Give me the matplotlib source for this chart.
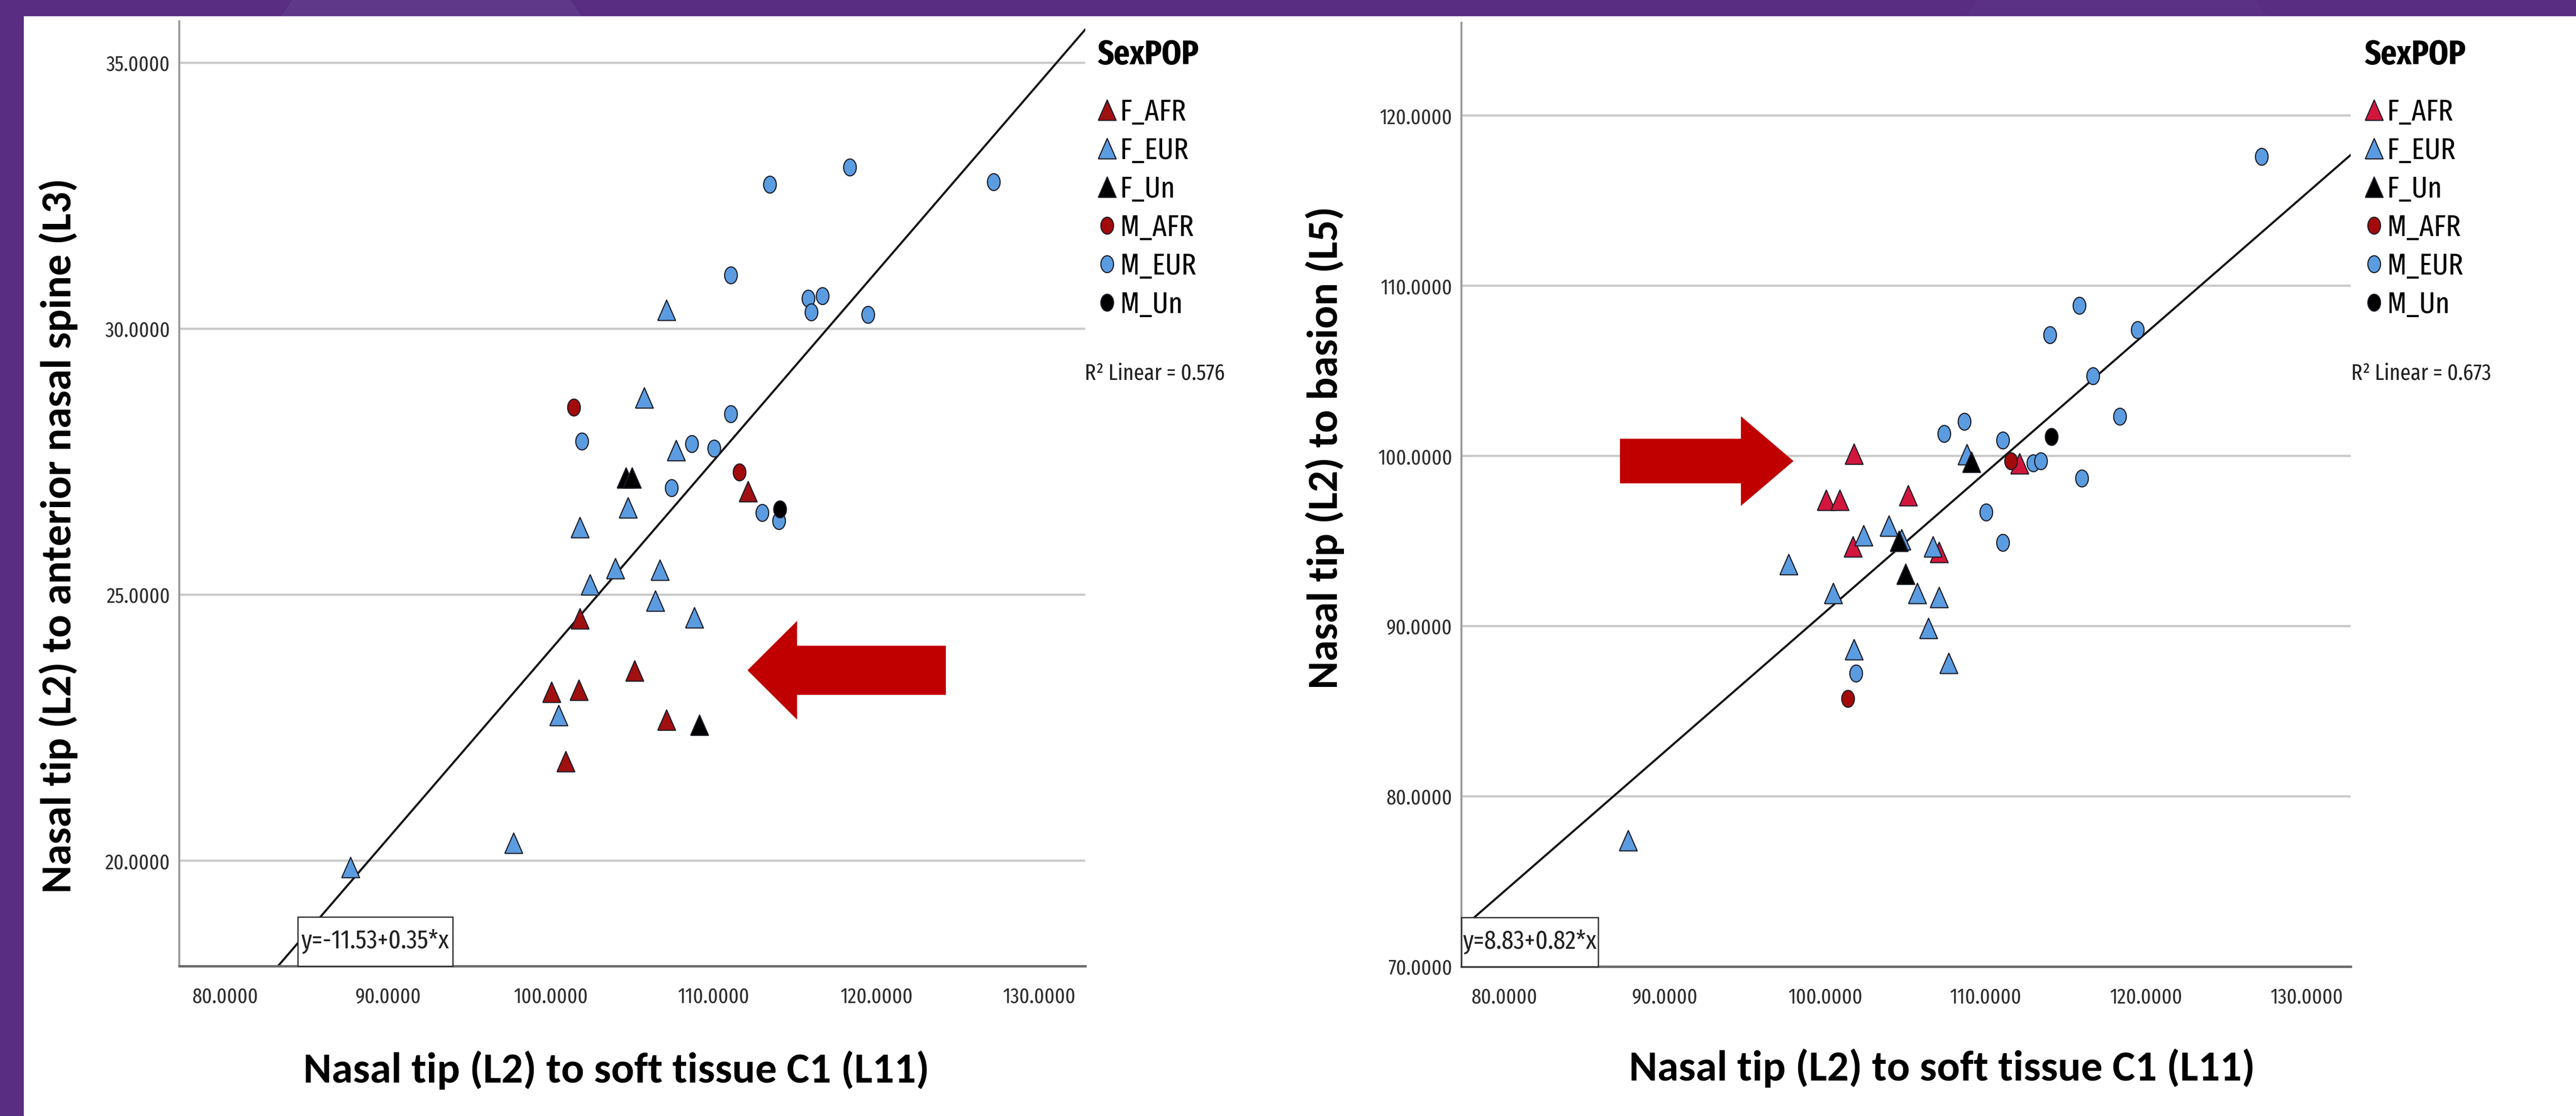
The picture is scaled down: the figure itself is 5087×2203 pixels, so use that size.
import os
import numpy as np
import matplotlib
matplotlib.use('Agg')
import matplotlib.pyplot as plt
from matplotlib import font_manager
from matplotlib.font_manager import FontProperties
from matplotlib.patches import Rectangle, Ellipse, FancyArrow
from matplotlib.lines import Line2D

# x = Nasal tip (L2) to soft tissue C1 (L11)
# l3 = Nasal tip (L2) to anterior nasal spine (L3), l5 = Nasal tip (L2) to basion (L5)
f_afr_x = [112.10, 101.78, 101.72, 105.15, 100.05, 107.10, 100.90]
f_afr_l3 = [26.94, 24.55, 23.21, 23.57, 23.17, 22.65, 21.87]
f_afr_l5 = [99.55, 100.12, 94.67, 97.69, 97.42, 94.35, 97.42]

f_eur_x = [87.70, 97.70, 100.48, 101.79, 102.39, 103.95, 104.75, 105.74, 106.42, 106.70, 107.10, 107.68, 108.81]
f_eur_l3 = [19.88, 20.33, 22.73, 26.27, 25.19, 25.50, 26.64, 28.70, 24.89, 25.47, 30.35, 27.71, 24.57]
f_eur_l5 = [77.41, 93.63, 91.93, 88.63, 95.33, 95.89, 95.10, 91.93, 89.88, 94.67, 91.70, 87.83, 100.10]

f_un_x = [104.60, 105.00, 109.12]
f_un_l3 = [27.20, 27.20, 22.55]
f_un_l5 = [95.00, 93.07, 99.65]

m_afr_x = [101.40, 111.57]
m_afr_l3 = [28.52, 27.30]
m_afr_l5 = [85.75, 99.70]

m_eur_x = [101.90, 107.40, 108.66, 110.03, 111.05, 111.06, 112.97, 113.44,
           114.01, 115.82, 116.00, 116.69, 118.37, 119.47, 127.20]
m_eur_l3 = [27.89, 27.01, 27.84, 27.75, 31.01, 28.40, 26.54, 32.71,
            26.39, 30.57, 30.31, 30.62, 33.04, 30.27, 32.76]
m_eur_l5 = [87.23, 101.30, 102.02, 96.71, 100.91, 94.91, 99.59, 99.70,
            107.11, 108.84, 98.70, 104.71, 102.31, 107.41, 117.60]

m_un_x = [114.08]
m_un_l3 = [26.61]
m_un_l5 = [101.12]

group_names = ['F_AFR', 'F_EUR', 'F_Un', 'M_AFR', 'M_EUR', 'M_Un']
x_ticks = [80, 90, 100, 110, 120, 130]
l3_ticks = [20, 25, 30, 35]
l5_ticks = [70, 80, 90, 100, 110, 120]

W, H = 5087, 2203
fig = plt.figure(figsize=(W / 100, H / 100), dpi=100)
fig.patch.set_facecolor('#582d82')
renderer = fig.canvas.get_renderer()

# fonts: the SPSS chart text is squeezed sideways, so use a narrow sans
files = {os.path.basename(f.fname): f.fname for f in font_manager.fontManager.ttflist}


def pick(candidates, family, weight):
    for c in candidates:
        if c in files:
            return FontProperties(fname=files[c])
    return FontProperties(family=family, weight=weight)


REG = pick(['FiraSansExtraCondensed-Regular.ttf', 'BarlowCondensed-Regular.ttf',
            'AsapCondensed-Regular.ttf', 'RobotoCondensed-Regular.ttf'],
           'Liberation Sans', 'normal')
BOLD = pick(['FiraSansExtraCondensed-Bold.ttf', 'BarlowCondensed-SemiBold.ttf',
             'AsapCondensed-Bold.ttf', 'RobotoCondensed-Bold.ttf'],
            'Liberation Sans', 'bold')
LAB = pick(['Carlito-Bold.ttf'], ['Lato', 'DejaVu Sans'], 'bold')


def metrics(s, fp):
    return renderer.get_text_width_height_descent(s, fp, ismath=False)


def fit(s, fp, target):
    # font size (pt) that makes the string `target` pixels wide
    p = fp.copy()
    p.set_size(100)
    return 100 * target / metrics(s, p)[0]


def sized(fp, size):
    p = fp.copy()
    p.set_size(size)
    return p


TICK = sized(REG, fit('100.0000', REG, 147))
LEG = sized(REG, fit('F_AFR', REG, 131))
TITLE = sized(BOLD, fit('SexPOP', BOLD, 200))
R2 = sized(REG, fit('R² Linear = 0.576', REG, 277))
EQ = sized(REG, fit('y=-11.53+0.35*x', REG, 292))
XL = sized(LAB, fit('Nasal tip (L2) to soft tissue C1 (L11)', LAB, 1237))
_, leg_h, _ = metrics('lp', LEG)
leg_pt = LEG.get_size_in_points()
_, lp_h, lp_d = metrics('lp', TICK)
_, dig_h, _ = metrics('0', TICK)
xpad = (58 - ((lp_h - lp_d) - dig_h / 2)) * 0.72


def fx(px):
    return px / W


def fy(py):
    return 1 - py / H


# slide background: purple frame + white panel, faint circles in the top band
fig.patches.append(Ellipse((fx(852), fy(200)), 680 / W, 680 / H, transform=fig.transFigure,
                           fc='#5f3889', ec='none', zorder=-3))
fig.patches.append(Ellipse((fx(4180), fy(200)), 680 / W, 680 / H, transform=fig.transFigure,
                           fc='#5b3185', ec='none', zorder=-3))
fig.patches.append(Rectangle((fx(47), 0), 1 - fx(47), fy(32), transform=fig.transFigure,
                             fc='white', ec='none', zorder=-2))

edge = '#1c1c28'
blue = '#5b9ce0'
tri = [(-0.875, -1), (0.875, -1), (0, 1), (-0.875, -1)]
t = np.linspace(0, 2 * np.pi, 60)
ell = list(zip(0.75 * np.cos(t), np.sin(t)))


def styles(afr_tri):
    return {
        'F_AFR': (tri, 29, afr_tri),
        'F_EUR': (tri, 29, blue),
        'F_Un': (tri, 29, 'black'),
        'M_AFR': (ell, 24, '#a30a0a'),
        'M_EUR': (ell, 24, blue),
        'M_Un': (ell, 24, 'black'),
    }


def panel(box, ys, ylim, yticks, b0, b1, eq_text, eq_w, r2_text, afr_tri,
          ylabel, ylab_len, xl_pos, yl_pos, legend_x, r2_x):
    ax = fig.add_axes([fx(box[0]), fy(box[3]), fx(box[2] - box[0]), (box[3] - box[1]) / H])
    ax.set_xlim(box[4], box[5])
    ax.set_ylim(ylim)
    xs = [f_afr_x, f_eur_x, f_un_x, m_afr_x, m_eur_x, m_un_x]
    st = styles(afr_tri)
    handles = []
    for name, x, y in zip(group_names, xs, ys):
        mk, ms, fc = st[name]
        ax.plot(x, y, ls='none', marker=mk, ms=ms, mfc=fc, mec=edge, mew=1.6, zorder=3)
        handles.append(Line2D([], [], ls='none', marker=mk, ms=ms, mfc=fc, mec=edge, mew=1.6))

    xx = np.array(ax.get_xlim())
    ax.plot(xx, b0 + b1 * xx, color='#151515', lw=3.0, zorder=2)

    ax.set_xticks(x_ticks)
    ax.set_xticklabels(['%.4f' % v for v in x_ticks])
    ax.set_yticks(yticks)
    ax.set_yticklabels(['%.4f' % v for v in yticks])
    ax.tick_params(length=0, labelcolor='#2e2e2e')
    ax.tick_params(axis='y', pad=13)
    ax.tick_params(axis='x', pad=xpad)
    for lab in ax.get_xticklabels() + ax.get_yticklabels():
        lab.set_fontproperties(TICK)

    ax.yaxis.grid(True, color='#cacaca', lw=3.2)
    ax.set_axisbelow(True)
    for side in ['top', 'right']:
        ax.spines[side].set_visible(False)
    ax.spines['left'].set_color('#9a9a9a')
    ax.spines['left'].set_linewidth(2.8)
    ax.spines['bottom'].set_color('#6a6a6a')
    ax.spines['bottom'].set_linewidth(3.4)

    # equation box in the lower-left corner
    hfrac = 97 / (box[3] - box[1])
    ax.add_patch(Rectangle((eq_w[0], 0), eq_w[1] - eq_w[0], hfrac, transform=ax.transAxes,
                           fc='white', ec='#2a2a2a', lw=1.8, zorder=4, clip_on=False))
    ax.text((eq_w[0] + eq_w[1]) / 2, hfrac / 2, eq_text, transform=ax.transAxes,
            ha='center', va='center', fontproperties=EQ, color='#222222', zorder=5)

    ax.set_xlabel('Nasal tip (L2) to soft tissue C1 (L11)', fontproperties=XL, va='center')
    ax.xaxis.set_label_coords(*xl_pos)
    ax.set_ylabel(ylabel, fontproperties=sized(LAB, fit(ylabel, LAB, ylab_len)), va='center')
    ax.yaxis.set_label_coords(*yl_pos)

    fig.text(fx(legend_x), fy(109), 'SexPOP', ha='left', va='center', fontproperties=TITLE)
    ax.legend(handles, group_names, loc='upper left',
              bbox_to_anchor=(fx(legend_x), fy(222 - leg_h / 2)), bbox_transform=fig.transFigure,
              frameon=False, borderpad=0, borderaxespad=0, handlelength=0.85 * 30 / leg_pt,
              handletextpad=0.2 * 30 / leg_pt, labelspacing=(76 - leg_h) * 0.72 / leg_pt,
              prop=LEG)
    fig.text(fx(r2_x), fy(738), r2_text, ha='left', va='center', fontproperties=R2,
             color='#222222')
    return ax


axL = panel((354, 42, 2143, 1907, 77.17, 132.83),
            [f_afr_l3, f_eur_l3, f_un_l3, m_afr_l3, m_eur_l3, m_un_l3],
            (18.02, 35.78), l3_ticks, -11.53, 0.355, 'y=-11.53+0.35*x', (0.1308, 0.3018),
            'R² Linear = 0.576', '#a01010',
            'Nasal tip (L2) to anterior nasal spine (L3)', 1412,
            (0.4824, -0.1099), (-0.1336, 0.4558), 2168, 2142)

axR = panel((2886, 45, 4642, 1908, 77.32, 132.75),
            [f_afr_l5, f_eur_l5, f_un_l5, m_afr_l5, m_eur_l5, m_un_l5],
            (70, 125.45), l5_ticks, 8.83, 0.82, 'y=8.83+0.82*x', (0.0, 0.1538),
            'R² Linear = 0.673', '#d3163c',
            'Nasal tip (L2) to basion (L5)', 953,
            (0.5404, -0.1074), (-0.1538, 0.5497), 4670, 4643)

# red call-out arrows
axL.add_patch(FancyArrow(124.27, 23.58, -12.19, 0, width=0.924, head_width=1.857,
                         head_length=3.05, length_includes_head=True, color='#c00000',
                         lw=0, zorder=6, clip_on=False))
axR.add_patch(FancyArrow(87.2, 99.7, 10.82, 0, width=2.62, head_width=5.27,
                         head_length=3.28, length_includes_head=True, color='#c00000',
                         lw=0, zorder=6, clip_on=False))

fig.savefig('out.png', dpi=100)
